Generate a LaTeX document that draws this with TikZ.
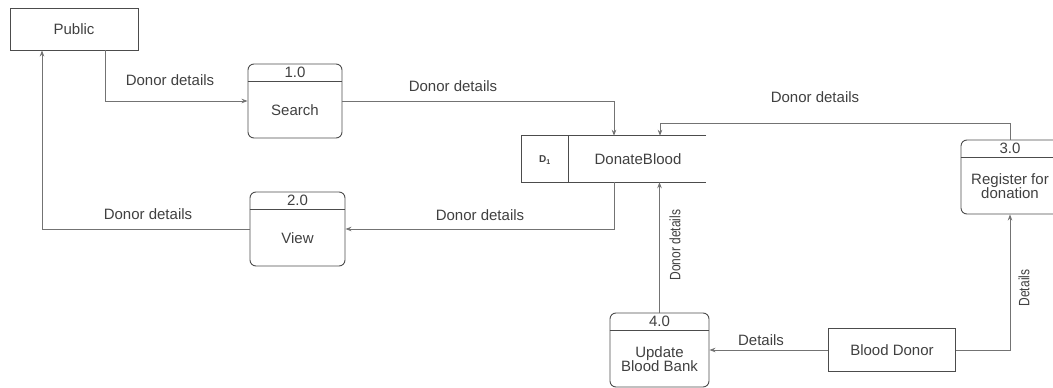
\documentclass[tikz,border=0pt]{standalone}
\usepackage{fontspec}
\setmainfont{Liberation Sans}
\usetikzlibrary{arrows.meta}

\newcommand{\dfdproc}[6]{% name, x, y, w, number, text
  \node[proc, minimum width=#4] (#1) at (#2,#3) {};
  \draw[boxline] ([yshift=-18pt]#1.north west) -- ([yshift=-18pt]#1.north east);
  \node[lbl] (#1num) at ([yshift=-9pt]#1.north) {#5};
  \node[lbl, align=center] (#1txt) at ([yshift=-9pt]#1.center) {#6};
}
\newcommand{\narrow}[1]{\scalebox{0.8}[1]{#1}}

\begin{document}
\begin{tikzpicture}[x=1pt, y=-1pt,
lbl/.style={text=black!75, font=\fontsize{15}{16}\selectfont, inner sep=1pt},
boxline/.style={draw=black!70, line width=0.9pt},
entity/.style={rectangle, boxline, lbl, minimum height=42pt},
proc/.style={rectangle, boxline, rounded corners=6pt, minimum height=74pt},
flow/.style={draw=black!55, line width=0.8pt, -{Stealth[length=6pt,width=4.5pt]}}]
\useasboundingbox (0,0) rectangle (1053,388);
% external entities
\node[entity, minimum width=128pt] (public) at (74,29) {Public};
\node[entity, minimum width=127pt, minimum height=43pt] (donor) at (892,350) {Blood Donor};
% processes
\dfdproc{search}{295}{101}{94pt}{1.0}{Search}
\dfdproc{view}{297.5}{229}{95pt}{2.0}{View}
\dfdproc{reg}{1010}{177}{98pt}{3.0}{Register for\\[-2pt]donation}
\dfdproc{upd}{659.5}{350}{99pt}{4.0}{Update\\[-2pt]Blood Bank}
% data store
\node[minimum width=184pt, minimum height=46pt, inner sep=0pt] (store) at (614,159) {};
\draw[boxline] (store.north east) -- (store.north west) -- (store.south west) -- (store.south east);
\draw[boxline] ([xshift=47pt]store.north west) -- ([xshift=47pt]store.south west);
\node[lbl, font=\bfseries\fontsize{10}{12}\selectfont] (dnum) at (545,160) {D\textsubscript{1}};
\node[lbl] (dname) at (638,159) {DonateBlood};
% flows
\coordinate (c1) at (660,123);
\draw[flow] ([xshift=31pt]public.south) |- (search.west);
\draw[flow] (search.east) -| (store.north);
\draw[flow] (reg.north) |- (c1) -- (c1 |- store.north);
\draw[flow] (store.south) |- (view.east);
\draw[flow] (view.west) -| ([xshift=-32pt]public.south);
\draw[flow] (upd.north) -- (upd.north |- store.south);
\draw[flow] (donor.west) -- (upd.east);
\draw[flow] (donor.east) -| (reg.south);
% flow labels
\node[lbl] (l1) at (170,80) {Donor details};
\node[lbl] (l2) at (453,86) {Donor details};
\node[lbl] (l3) at (815,97) {Donor details};
\node[lbl] (l4) at (148,214) {Donor details};
\node[lbl] (l5) at (480,215) {Donor details};
\node[lbl, rotate=90] (l6) at (675,245) {\narrow{Donor details}};
\node[lbl] (l7) at (761,340) {Details};
\node[lbl, rotate=90] (l8) at (1024,288) {\narrow{Details}};
\end{tikzpicture}
\end{document}
